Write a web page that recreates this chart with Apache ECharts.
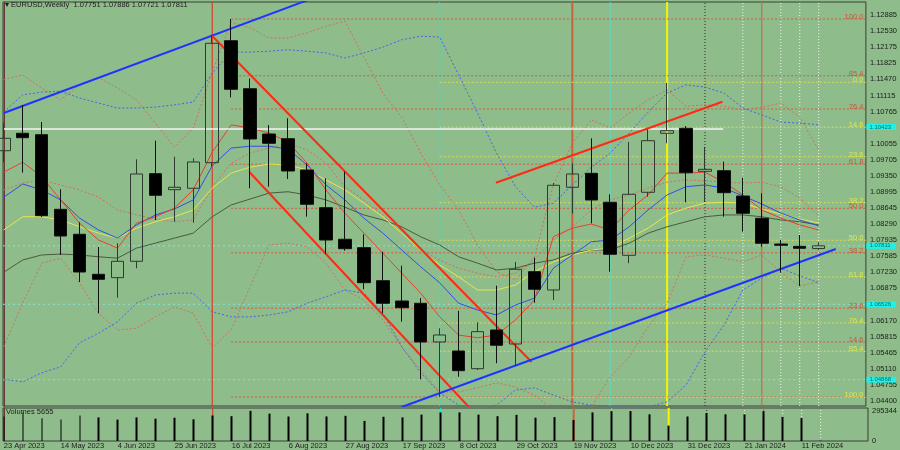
<!DOCTYPE html>
<html><head><meta charset="utf-8">
<script src="https://cdn.jsdelivr.net/npm/echarts@6/dist/echarts.min.js"></script>
<style>html,body{margin:0;padding:0;background:#8fbc8b}#c{width:900px;height:450px}</style>
</head><body><div id="c"></div>
<script>
// ---------------- DATA ----------------
const symbolName = 'EURUSD,Weekly';
const dates = ['23 Apr 2023','30 Apr 2023','7 May 2023','14 May 2023','21 May 2023','28 May 2023','4 Jun 2023','11 Jun 2023','18 Jun 2023','25 Jun 2023','2 Jul 2023','9 Jul 2023','16 Jul 2023','23 Jul 2023','30 Jul 2023','6 Aug 2023','13 Aug 2023','20 Aug 2023','27 Aug 2023','3 Sep 2023','10 Sep 2023','17 Sep 2023','24 Sep 2023','1 Oct 2023','8 Oct 2023','15 Oct 2023','22 Oct 2023','29 Oct 2023','5 Nov 2023','12 Nov 2023','19 Nov 2023','26 Nov 2023','3 Dec 2023','10 Dec 2023','17 Dec 2023','24 Dec 2023','31 Dec 2023','7 Jan 2024','14 Jan 2024','21 Jan 2024','28 Jan 2024','4 Feb 2024','11 Feb 2024','18 Feb 2024'];
const openP  = [1.09902,1.10285,1.10254,1.08614,1.08065,1.07185,1.07111,1.07471,1.09397,1.09045,1.09076,1.09639,1.12320,1.11265,1.10269,1.10166,1.09478,1.08649,1.07955,1.07770,1.07045,1.06598,1.06548,1.05697,1.05499,1.05110,1.05961,1.05653,1.07243,1.06840,1.09098,1.09405,1.08768,1.07603,1.08988,1.10285,1.10395,1.09449,1.09463,1.08906,1.08416,1.07851,1.07800,1.07751];
const highP  = [1.10520,1.10907,1.10533,1.09054,1.08328,1.07785,1.07867,1.09713,1.10122,1.09770,1.09735,1.12450,1.12797,1.11490,1.10467,1.10615,1.09625,1.09296,1.09441,1.08065,1.07682,1.07374,1.06664,1.05998,1.06385,1.06130,1.06935,1.07456,1.07550,1.09192,1.09625,1.10175,1.08944,1.10094,1.10373,1.11391,1.10445,1.09984,1.09661,1.09309,1.08966,1.07939,1.08049,1.07886];
const lowP   = [1.09650,1.09419,1.08445,1.07610,1.07016,1.06328,1.06671,1.07317,1.08379,1.08342,1.08320,1.09560,1.11076,1.09076,1.09111,1.09280,1.08452,1.07632,1.07704,1.06856,1.06328,1.06143,1.04877,1.04490,1.04934,1.05082,1.05229,1.05170,1.06560,1.06620,1.08526,1.08306,1.07242,1.07430,1.08891,1.10065,1.08768,1.08775,1.08452,1.08122,1.07792,1.07220,1.06928,1.07721];
const closeP = [1.10175,1.10188,1.08474,1.08027,1.07236,1.07075,1.07471,1.09390,1.08922,1.09098,1.09654,1.12263,1.11252,1.10160,1.10065,1.09456,1.08724,1.07939,1.07748,1.07001,1.06548,1.06451,1.05697,1.05851,1.05066,1.05924,1.05625,1.07295,1.06856,1.09142,1.09390,1.08819,1.07625,1.08944,1.10122,1.10342,1.09419,1.09493,1.08979,1.08526,1.07867,1.07823,1.07757,1.07811];
const volumes = [240000,279700,221500,209500,249200,230800,209500,230800,218800,228000,212300,249200,242700,295344,267700,240000,270400,240000,246400,196600,237200,230800,258400,279700,279700,258400,242700,255700,228000,233500,205800,279700,292000,293000,261200,150400,240000,274100,261200,261200,292000,237200,224300,5655];

const maRed    = [1.0943,1.0965,1.0933,1.0882,1.0831,1.0794,1.0776,1.0831,1.0845,1.0864,1.0904,1.0987,1.1047,1.1040,1.1029,1.1009,1.0963,1.0904,1.0853,1.0809,1.0765,1.0721,1.0677,1.0625,1.0585,1.0579,1.0585,1.0618,1.0662,1.0801,1.0820,1.0829,1.0816,1.0860,1.0893,1.0941,1.0941,1.0943,1.0921,1.0893,1.0860,1.0842,1.0827,1.0816];
const maBlue   = [1.0888,1.0917,1.0904,1.0882,1.0842,1.0816,1.0798,1.0827,1.0849,1.0862,1.0882,1.0957,1.0996,1.1000,1.1000,1.0994,1.0959,1.0915,1.0882,1.0842,1.0809,1.0772,1.0735,1.0700,1.0655,1.0640,1.0629,1.0651,1.0666,1.0732,1.0761,1.0790,1.0794,1.0823,1.0860,1.0893,1.0911,1.0915,1.0908,1.0891,1.0873,1.0853,1.0838,1.0825];
const maYellow = [1.0816,1.0845,1.0845,1.0838,1.0823,1.0809,1.0798,1.0820,1.0834,1.0845,1.0860,1.0908,1.0941,1.0954,1.0961,1.0959,1.0948,1.0926,1.0904,1.0875,1.0845,1.0809,1.0772,1.0739,1.0713,1.0684,1.0684,1.0695,1.0724,1.0746,1.0761,1.0772,1.0776,1.0798,1.0820,1.0849,1.0864,1.0875,1.0877,1.0875,1.0862,1.0851,1.0840,1.0831];
const maGray   = [1.0723,1.0750,1.0761,1.0763,1.0761,1.0757,1.0754,1.0776,1.0787,1.0798,1.0809,1.0845,1.0871,1.0884,1.0897,1.0900,1.0893,1.0882,1.0866,1.0849,1.0838,1.0823,1.0801,1.0783,1.0757,1.0743,1.0728,1.0732,1.0743,1.0750,1.0765,1.0772,1.0772,1.0787,1.0809,1.0823,1.0834,1.0845,1.0849,1.0849,1.0845,1.0838,1.0834,1.0827];
const bandUpper = [1.1075,1.1113,1.1119,1.1121,1.1106,1.1095,1.1084,1.1084,1.1086,1.1091,1.1097,1.1161,1.1207,1.1207,1.1209,1.1212,1.1209,1.1205,1.1194,1.1205,1.1218,1.1234,1.1242,1.1240,1.1157,1.1073,1.0985,1.0911,1.0866,1.0875,1.0915,1.0954,1.0985,1.1029,1.1075,1.1117,1.1135,1.1130,1.1117,1.1084,1.1069,1.1053,1.1051,1.1047];
const bandLower = [1.0488,1.0482,1.0502,1.0515,1.0568,1.0589,1.0614,1.0655,1.0673,1.0677,1.0677,1.0636,1.0625,1.0625,1.0629,1.0636,1.0655,1.0669,1.0684,1.0677,1.0633,1.0559,1.0502,1.0458,1.0431,1.0420,1.0431,1.0464,1.0469,1.0453,1.0438,1.0431,1.0429,1.0427,1.0427,1.0438,1.0475,1.0548,1.0607,1.0684,1.0710,1.0732,1.0715,1.0700];
const envUpper = [1.1146,1.1157,1.1128,1.1102,1.1135,1.1150,1.1128,1.1102,1.1051,1.0998,1.1040,1.1163,1.1273,1.1260,1.1238,1.1238,1.1249,1.1264,1.1275,1.1196,1.1117,1.1064,1.0985,1.0915,1.0860,1.0783,1.0724,1.0706,1.0757,1.0915,1.1007,1.1058,1.1040,1.1073,1.1102,1.1124,1.1088,1.1091,1.1088,1.1080,1.1086,1.1095,1.1064,1.0992];
const envMid   = [1.0904,1.0919,1.0926,1.0915,1.0904,1.0888,1.0860,1.0849,1.0840,1.0834,1.0838,1.0911,1.0963,1.0985,1.0996,1.1007,1.0992,1.0963,1.0911,1.0882,1.0849,1.0809,1.0772,1.0750,1.0732,1.0721,1.0713,1.0721,1.0750,1.0794,1.0823,1.0860,1.0882,1.0893,1.0908,1.0921,1.0926,1.0924,1.0921,1.0919,1.0921,1.0911,1.0886,1.0847];
const envLower = [1.0559,1.0655,1.0743,1.0754,1.0699,1.0633,1.0596,1.0600,1.0625,1.0647,1.0633,1.0557,1.0596,1.0691,1.0783,1.0787,1.0779,1.0743,1.0684,1.0662,1.0618,1.0559,1.0508,1.0460,1.0460,1.0469,1.0480,1.0471,1.0453,1.0420,1.0416,1.0427,1.0493,1.0537,1.0603,1.0655,1.0757,1.0761,1.0754,1.0746,1.0761,1.0723,1.0693,1.0702];

const priceTicks = [1.12885,1.12530,1.12175,1.11825,1.11470,1.11115,1.10765,1.10055,1.09705,1.09350,1.08995,1.08645,1.08290,1.07935,1.07585,1.07230,1.06875,1.06170,1.05815,1.05465,1.05110,1.04755,1.04400];
const volumeTicks = [0, 295344];
const dateTickIdx = [0,3,6,9,12,15,18,21,24,27,30,33,36,39,42];

const redFibLabels = ['100.0','85.4','76.4','61.8','50.0','38.2','23.6','14.6',''];
const redFibPrices = [1.12797,1.11550,1.10820,1.09605,1.08635,1.07658,1.06440,1.05697,1.04490];
const redFibStart = 12;
const yellowFibLabels = ['0.0','14.6','23.6','38.2','50.0','61.8','76.4','85.4','100.0'];
const yellowFibPrices = [1.11406,1.10417,1.09770,1.08759,1.07933,1.07126,1.06115,1.05493,1.04482];
const yellowFibStart = 23;

const markedBars = [0,11,23,30,32,35,37,39,40,41,42,43];
const trendBlueUpper = [[0,1.10731],[16,1.13206]];
const trendRedDownUpper = [[11.0,1.12424],[27.85,1.05258]];
const trendRedDownLower = [[12.96,1.09434],[24.54,1.04268]];
const trendRedUp = [[25.97,1.09199],[37.92,1.10979]];
const trendBlueUp = [[21.0,1.04268],[43.9,1.07741]];
const whiteLevel = [[0,1.10379],[37.96,1.10379]];
const cyanLevels = [1.07811,1.06526,1.04868];
const cyanBoxPrices = [1.10423,1.07811,1.06526,1.04868];
const cyanBoxTexts = ['1.10423','1.07811','1.06526','1.04868'];

// ---------------- CHART ----------------
const XMIN = -0.04, XMAX = 45.49, YMIN = 1.04290, YMAX = 1.13171, VMAX = 323000;
const FONT = 'Liberation Sans';
const TXT = '#1c1c1c';
const vStyle = {
  0:{color:'#e8281a',width:1,type:'solid'}, 11:{color:'#e8281a',width:1,type:'solid'},
  23:{color:'#00f2f2',width:1,type:'solid'}, 30:{color:'#c8643c',width:2,type:'solid'},
  32:{color:'#66d8c4',width:1,type:'solid'}, 35:{color:'#f4f400',width:2,type:'solid'},
  37:{color:'#2b2b2b',width:1,type:[1,2]}, 39:{color:'#eef4ee',width:1,type:[1,2]},
  40:{color:'#d85a44',width:1,type:'solid'}, 41:{color:'#eef4ee',width:1,type:[1,2]},
  42:{color:'#eef4ee',width:1,type:[1,2]}, 43:{color:'#eef4ee',width:1,type:[1,2]}
};
const series = [];
const base = {symbol:'none', silent:true, animation:false};
markedBars.forEach(b => {
  series.push(Object.assign({type:'line', xAxisIndex:0, yAxisIndex:0, data:[[b,YMIN],[b,YMAX]], lineStyle:vStyle[b], z:1}, base));
  series.push(Object.assign({type:'line', xAxisIndex:1, yAxisIndex:1, data:[[b,0],[b,VMAX]], lineStyle:vStyle[b], z:1}, base));
});
function fibSet(labels, prices, start, lineColor, labelColor) {
  prices.forEach((p, k) => {
    series.push(Object.assign({type:'line', data:[[start,p],[XMAX,p]], lineStyle:{color:lineColor,width:1,type:[2,2]}, z:1}, base));
    if (labels[k]) series.push({type:'scatter', silent:true, animation:false, clip:false, symbolSize:1,
      itemStyle:{color:'rgba(0,0,0,0)'}, data:[[XMAX,p]], z:8,
      label:{show:true, position:'left', distance:2, offset:[0,-2], formatter:labels[k], color:labelColor, fontSize:7.5, fontFamily:FONT}});
  });
}
fibSet(redFibLabels, redFibPrices, redFibStart, '#d25a44', '#e23a26');
fibSet(yellowFibLabels, yellowFibPrices, yellowFibStart, '#dcdc4c', '#f2f23c');
cyanLevels.forEach(p => series.push(Object.assign({type:'line', data:[[XMIN,p],[XMAX,p]], lineStyle:{color:'#7fe6de',width:1,type:[2,3]}, z:1}, base)));
const pairLine = arr => arr.map((v,i)=>[i,v]);
const ind = [
  [envUpper,'#d0705a',[2,2]],[envMid,'#d0705a',[2,2]],[envLower,'#d0705a',[2,2]],
  [bandUpper,'#4664e6',[2,2]],[bandLower,'#4664e6',[2,2]],
  [maGray,'#4a5a42','solid'],[maYellow,'#e8e84a','solid'],[maBlue,'#3050e0','solid'],[maRed,'#e8402c','solid']
];
ind.forEach(([arr,c,t]) => series.push(Object.assign({type:'line', data:pairLine(arr), lineStyle:{color:c,width:1,type:t}, z:2}, base)));
series.push(Object.assign({type:'line', data:whiteLevel, lineStyle:{color:'#f4f4f4',width:1.5}, z:3}, base));
[[trendBlueUpper,'#1f33ff'],[trendRedDownUpper,'#ff2a14'],[trendRedDownLower,'#ff2a14'],[trendRedUp,'#ff2a14'],[trendBlueUp,'#1f33ff']]
  .forEach(([d,c]) => series.push(Object.assign({type:'line', data:d, lineStyle:{color:c,width:2}, z:3}, base)));
series.push({type:'candlestick', xAxisIndex:0, yAxisIndex:0, animation:false, silent:true, barWidth:13, z:5,
  data: dates.map((d,i)=>[i, openP[i], closeP[i], lowP[i], highP[i]]),
  itemStyle:{color:'rgba(0,0,0,0)', color0:'#000000', borderColor:'#2e3a2e', borderColor0:'#111111', borderWidth:1}});
// volume histogram: one vertical stroke per week on the volume axes
series.push({type:'candlestick', xAxisIndex:1, yAxisIndex:1, animation:false, silent:true, barWidth:2, z:5,
  data: volumes.map((v,i)=>[i, 0, v, 0, v]),
  itemStyle:{color:'#000000', color0:'#000000', borderColor:'#000000', borderColor0:'#000000', borderWidth:0}});
series.push({type:'scatter', silent:true, animation:false, clip:false, symbolSize:1, itemStyle:{color:'rgba(0,0,0,0)'}, z:9,
  data: cyanBoxPrices.map((p,k)=>({value:[XMAX,p], label:{formatter:cyanBoxTexts[k]}})),
  label:{show:true, position:'right', distance:0, color:'#0a4a4a', fontSize:6, fontFamily:FONT, backgroundColor:'#00ffff', padding:[0,5,0,3], lineHeight:6}});

const last = openP.length - 1;
const option = {
  backgroundColor:'#8fbc8b', animation:false,
  textStyle:{fontFamily:FONT},
  title:[
    {text:'\u25BE ' + symbolName + '  ' + [openP[last],highP[last],lowP[last],closeP[last]].map(v=>v.toFixed(5)).join(' '), left:5, top:1, padding:0,
      textStyle:{fontSize:7.5, fontWeight:'normal', color:TXT, fontFamily:FONT}},
    {text:'Volumes ' + volumes[last], left:6, top:408, padding:0, textStyle:{fontSize:7.5, fontWeight:'normal', color:TXT, fontFamily:FONT}}
  ],
  grid:[
    {left:3, right:32, top:2, height:404, show:true, borderColor:'#3c3c3c', borderWidth:1},
    {left:3, right:32, top:408, height:35, show:true, borderColor:'#3c3c3c', borderWidth:1}
  ],
  xAxis:[
    {gridIndex:0, type:'value', min:XMIN, max:XMAX, show:false},
    {gridIndex:1, type:'value', min:XMIN, max:XMAX, axisLine:{show:false}, axisTick:{show:false}, splitLine:{show:false},
      axisLabel:{customValues:dateTickIdx, formatter:v=>dates[Math.round(v)], align:'left', fontSize:7.5, color:TXT, margin:1}}
  ],
  yAxis:[
    {gridIndex:0, type:'value', position:'right', min:YMIN, max:YMAX, axisLine:{show:true, lineStyle:{color:'#3c3c3c'}}, axisTick:{show:false}, splitLine:{show:false},
      axisLabel:{customValues:priceTicks, formatter:v=>v.toFixed(5), fontSize:7.5, color:TXT, margin:4}},
    {gridIndex:1, type:'value', position:'right', min:0, max:VMAX, axisLine:{show:true, lineStyle:{color:'#3c3c3c'}}, axisTick:{show:false}, splitLine:{show:false},
      axisLabel:{customValues:volumeTicks, formatter:v=>String(v), fontSize:7.5, color:TXT, margin:4}}
  ],
  series: series.map(s => Object.assign({xAxisIndex: s.xAxisIndex || 0, yAxisIndex: s.yAxisIndex || 0}, s))
};
echarts.init(document.getElementById('c'), null, {renderer:'canvas'}).setOption(option);
</script></body></html>
